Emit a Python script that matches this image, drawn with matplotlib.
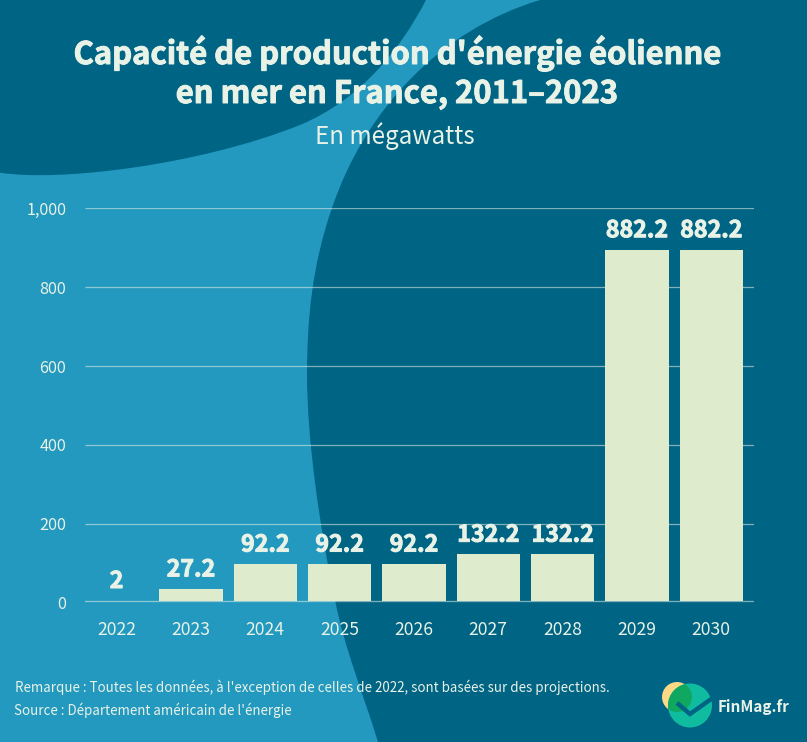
import numpy as np
import matplotlib
matplotlib.use('Agg')
import matplotlib.pyplot as plt
import matplotlib.patheffects as pe
from matplotlib.path import Path
from matplotlib.patches import PathPatch, Circle

plt.rcParams['font.family'] = ['Noto Sans CJK SC', 'DejaVu Sans']

years = ['2022', '2023', '2024', '2025', '2026', '2027', '2028', '2029', '2030']
# drawn bar tops, they do not quite follow the printed labels
bar_tops = [5.5, 35, 98, 98, 98, 123, 123, 895, 895]
bar_labels = ['2', '27.2', '92.2', '92.2', '92.2', '132.2', '132.2', '882.2', '882.2']
y_ticks = [0, 200, 400, 600, 800, 1000]
y_ticklabels = ['0', '200', '400', '600', '800', '1,000']
baseline = 5

dark = '#006485'
light = '#2399c0'
bar_col = '#deebcd'
text_col = '#e9f2e6'
heavy = [pe.withStroke(linewidth=0.7, foreground=text_col)]

W, H = 807, 742
fig = plt.figure(figsize=(W / 100, H / 100), dpi=100)

### background shapes, in pixels ###
bg = fig.add_axes([0, 0, 1, 1], zorder=0)
bg.set_xlim(0, W)
bg.set_ylim(H, 0)
bg.axis('off')
bg.add_patch(plt.Rectangle((0, 0), W, H, color=light, lw=0))

C = Path.CURVE4
top_blob = Path([(0, 0), (0, 172.7), (60, 182), (200, 165), (300, 125), (360, 100), (400, 50), (426, 0), (0, 0)],
                [Path.MOVETO, Path.LINETO, C, C, C, C, C, C, Path.CLOSEPOLY])
bg.add_patch(PathPatch(top_blob, fc=dark, lw=0))

right_blob = Path([(540, 0), (440, 30), (365, 110), (332, 208), (312, 265), (307, 320), (307, 375),
                   (307, 440), (320, 530), (335, 600), (345, 650), (362, 690), (378, 742),
                   (W, H), (W, 0), (540, 0)],
                  [Path.MOVETO, C, C, C, C, C, C, C, C, C, C, C, C, Path.LINETO, Path.LINETO, Path.CLOSEPOLY])
bg.add_patch(PathPatch(right_blob, fc=dark, lw=0))

### chart ###
left, right, top, bottom = 85, 754, 208.3, 602.7
ax = fig.add_axes([left / W, 1 - bottom / H, (right - left) / W, (bottom - top) / H], zorder=1)
ax.patch.set_alpha(0)
x = np.arange(len(years))
step = 74.35
ax.set_xlim((left - 116.5) / step, (right - 116.5) / step)
ax.set_ylim(0, 1000)

ax.hlines(y_ticks[1:], *ax.get_xlim(), color=text_col, alpha=0.55, lw=0.9, zorder=1)
ax.axhline(baseline, color=text_col, alpha=0.55, lw=0.9, zorder=1)
tops = np.array(bar_tops, dtype=float)
ax.bar(x, tops - baseline, bottom=baseline, width=63.3 / step, color=bar_col, lw=0, zorder=2)

for xi, t, lab in zip(x, tops, bar_labels):
    ax.annotate(lab, (xi, t), xytext=(0, 9), textcoords='offset points', ha='center', va='baseline',
                fontsize=16.7, fontweight='bold', color=text_col, path_effects=heavy)

ax.set_xticks(x, years)
ax.set_yticks(y_ticks, y_ticklabels)
ax.tick_params(axis='both', length=0, labelcolor=text_col)
ax.tick_params(axis='x', pad=13.5, labelsize=12.6)
ax.tick_params(axis='y', pad=13.5, labelsize=11.7)
for s in ax.spines.values():
    s.set_visible(False)

### titles and notes ###
bg.text(397, 64, "Capacité de production d'énergie éolienne", ha='center', va='baseline',
        fontsize=22.3, fontweight='bold', color=text_col, path_effects=heavy)
bg.text(397, 103, 'en mer en France, 2011–2023', ha='center', va='baseline',
        fontsize=22.3, fontweight='bold', color=text_col, path_effects=heavy)
bg.text(395, 144, 'En mégawatts', ha='center', va='baseline', fontsize=17.4, color=text_col)
bg.text(15, 692, "Remarque : Toutes les données, à l'exception de celles de 2022, sont basées sur des projections.",
        ha='left', va='baseline', fontsize=9.62, color=text_col)
bg.text(13.5, 715, "Source : Département américain de l'énergie", ha='left', va='baseline',
        fontsize=9.6, color=text_col)

### logo ###
yellow = Circle((677, 697), 15, fc='#fbd985', lw=0)
teal = Circle((690, 705.5), 22, fc='#0fbc9f', lw=0)
overlap = Circle((677, 697), 15, fc='#10a860', lw=0)
bg.add_patch(yellow)
bg.add_patch(teal)
bg.add_patch(overlap)
overlap.set_clip_path(teal)
bg.plot([677, 690, 714], [703, 714, 697], color=dark, lw=3.2, solid_joinstyle='miter', solid_capstyle='butt')
bg.text(718, 712, 'FinMag.fr', ha='left', va='baseline', fontsize=11, fontweight='bold', color=text_col)

fig.savefig('out.png', dpi=100)
